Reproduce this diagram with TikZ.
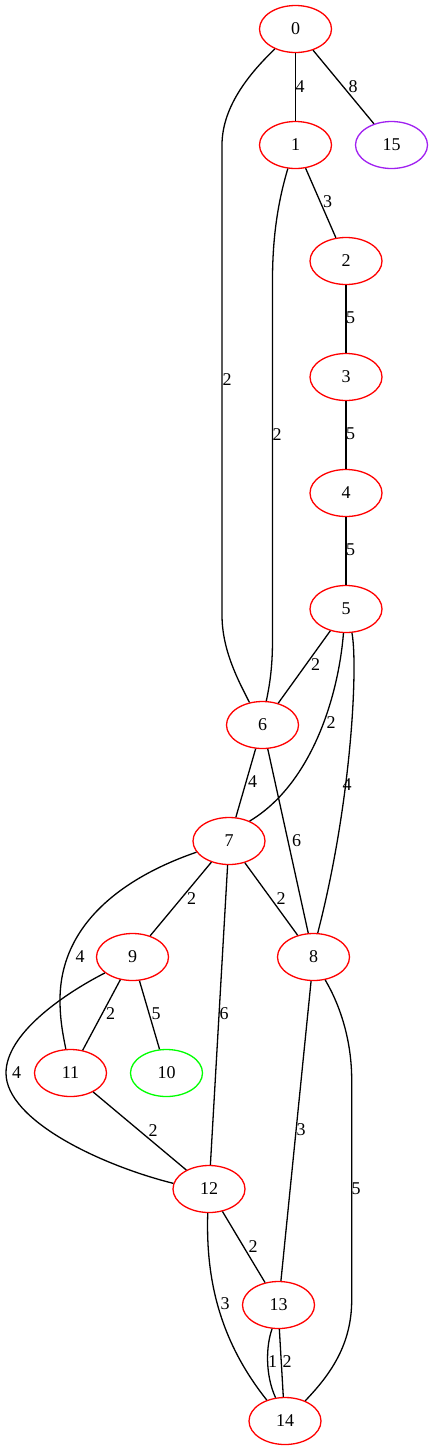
\documentclass[tikz,border=0pt]{standalone}
\usepackage{fontspec}
\setmainfont{Liberation Serif}
\usetikzlibrary{shapes.geometric}
\definecolor{gvpurple}{RGB}{160,32,240}
\definecolor{gvgreen}{RGB}{0,255,0}
\definecolor{gvred}{RGB}{255,0,0}
\begin{document}
\begin{tikzpicture}[x=1pt,y=-1pt,
  vtx/.style={ellipse,draw=gvred,line width=1.3pt,minimum width=72pt,minimum height=47pt,inner sep=0pt,font=\fontsize{18}{20}\selectfont},
  link/.style={line width=1.3pt,draw=black},
  lbl/.style={inner sep=0pt,font=\fontsize{18}{20}\selectfont}]
\useasboundingbox (0,0) rectangle (433,1451);

\node[vtx] (n0) at (295.5,29) {0};
\node[vtx] (n1) at (295.5,145) {1};
\node[vtx,draw=gvpurple] (n15) at (391.5,145) {15};
\node[vtx] (n2) at (346,261) {2};
\node[vtx] (n3) at (346,377) {3};
\node[vtx] (n4) at (346,493) {4};
\node[vtx] (n5) at (346,609) {5};
\node[vtx] (n6) at (262.5,725) {6};
\node[vtx] (n7) at (229,841) {7};
\node[vtx] (n9) at (132.5,957) {9};
\node[vtx] (n8) at (313.5,957) {8};
\node[vtx] (n11) at (70.5,1073) {11};
\node[vtx,draw=gvgreen] (n10) at (166.5,1073) {10};
\node[vtx] (n12) at (209,1189) {12};
\node[vtx] (n13) at (278.5,1305) {13};
\node[vtx] (n14) at (285,1421) {14};

% straight edges
\draw[link] (n0) -- (n1) node[lbl] at (300,87) {4};
\draw[link] (n0) -- (n15) node[lbl] at (353,87) {8};
\draw[link] (n1) -- (n2) node[lbl] at (327.5,202) {3};
\draw[link] (n2) -- (n3) node[lbl] at (350.5,318) {5};
\draw[link] (n3) -- (n4) node[lbl] at (350.5,434) {5};
\draw[link] (n4) -- (n5) node[lbl] at (350.5,550) {5};
\draw[link] (n5) -- (n6) node[lbl] at (315.5,665) {2};
\draw[link] (n6) -- (n7) node[lbl] at (252.5,782) {4};
\draw[link] (n6) -- (n8) node[lbl] at (296.7,841) {6};
\draw[link] (n7) -- (n9) node[lbl] at (191.7,899) {2};
\draw[link] (n7) -- (n8) node[lbl] at (281,899) {2};
\draw[link] (n7) -- (n12) node[lbl] at (224,1014) {6};
\draw[link] (n9) -- (n11) node[lbl] at (110.7,1014) {2};
\draw[link] (n9) -- (n10) node[lbl] at (156,1014) {5};
\draw[link] (n11) -- (n12) node[lbl] at (153,1131) {2};
\draw[link] (n8) -- (n13) node[lbl] at (301,1130) {3};
\draw[link] (n12) -- (n13) node[lbl] at (253,1247) {2};
\draw[link] (n13.272) -- (n14.94) node[lbl] at (287,1362) {2};

% curved edges
\draw[link] (n0.224) .. controls (252,71) and (222,105) .. (222,145)
  -- (222,615) .. controls (222,650) and (238,680) .. (n6.120);
\node[lbl] (l06) at (227,380) {2};
\draw[link] (n1.252) .. controls (280,195) and (272.5,230) .. (272.5,280)
  -- (272.5,640) .. controls (272.5,670) and (269,688) .. (n6.81);
\node[lbl] (l16) at (277,435) {2};
\draw[link] (n5.264) .. controls (338,700) and (310,785) .. (n7.44);
\node[lbl] (l57) at (331,723) {2};
\draw[link] (n5.284) .. controls (358,665) and (352,800) .. (n8.80);
\node[lbl] (l58) at (347,785) {4};
\draw[link] (n7.199) .. controls (130,875) and (60,920) .. (60,1000)
  .. controls (60,1020) and (63,1035) .. (n11.101);
\node[lbl] (l711) at (80,957) {4};
\draw[link] (n9.210) .. controls (60,996) and (6,1035) .. (6,1073)
  .. controls (6,1120) and (100,1165) .. (n12.171);
\node[lbl] (l912) at (16.7,1073) {4};
\draw[link] (n8.297) .. controls (340,1005) and (351.7,1040) .. (351.7,1080)
  -- (351.7,1300) .. controls (351.7,1345) and (330,1375) .. (n14.45);
\node[lbl] (l814) at (356,1189) {5};
\draw[link] (n12.267) .. controls (206,1270) and (215,1335) .. (n14.131);
\node[lbl] (l1214) at (225,1304) {3};
\draw[link] (n13.255) .. controls (266,1345) and (265,1375) .. (n14.112);
\node[lbl] (l1314) at (272.7,1362) {1};
\end{tikzpicture}
\end{document}
